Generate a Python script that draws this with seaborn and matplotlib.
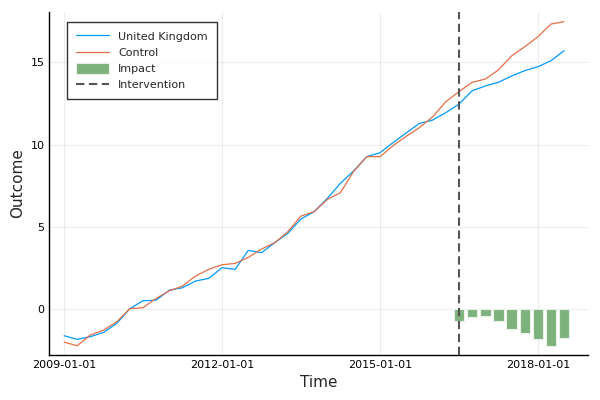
import pandas as pd
import numpy as np
import matplotlib
matplotlib.use("Agg")
import matplotlib.pyplot as plt
import matplotlib.dates as mdates
import seaborn as sns

# quarterly observations, 2009-01-01 .. 2018-07-01
start_date = "2009-01-01"
n_quarters = 39

uk = [-1.60, -1.82, -1.66, -1.40, -0.85, 0.04, 0.52, 0.56, 1.17, 1.31,
      1.72, 1.88, 2.53, 2.43, 3.58, 3.44, 4.05, 4.61, 5.48, 5.93,
      6.74, 7.65, 8.40, 9.27, 9.51, 10.12, 10.70, 11.29, 11.49, 11.94,
      12.45, 13.27, 13.56, 13.78, 14.16, 14.49, 14.73, 15.09, 15.70]

control = [-1.99, -2.21, -1.56, -1.26, -0.75, 0.04, 0.10, 0.67, 1.13, 1.41,
           2.02, 2.43, 2.71, 2.79, 3.15, 3.66, 4.05, 4.71, 5.66, 5.93,
           6.68, 7.08, 8.36, 9.27, 9.27, 9.93, 10.50, 11.03, 11.69, 12.60,
           13.21, 13.78, 13.98, 14.53, 15.38, 15.94, 16.55, 17.32, 17.46]

# impact bars after the intervention (2016-07-01 .. 2018-07-01)
impact = [-0.70, -0.49, -0.39, -0.73, -1.20, -1.44, -1.80, -2.20, -1.74]
intervention = "2016-07-01"

dates = pd.date_range(start_date, periods=n_quarters, freq="QS")
df = pd.DataFrame({"Time": dates, "United Kingdom": uk, "Control": control})
long = df.melt(id_vars="Time", var_name="series", value_name="Outcome")
impact_dates = dates[-len(impact):]

sns.set_style("white")
plt.rcParams["font.family"] = ["DejaVu Sans"]

fig = plt.figure(figsize=(6, 4), dpi=100)
ax = fig.add_axes([0.082, 0.1125, 0.898, 0.8575])

sns.lineplot(data=long, x="Time", y="Outcome", hue="series",
             palette={"United Kingdom": "#009AFA", "Control": "#E36F47"},
             linewidth=0.9, ax=ax)
ax.bar(impact_dates, impact, width=72, color="#7DB27D", edgecolor="#E8F2E8",
       linewidth=0.8, label="Impact", zorder=3)
ax.axvline(pd.Timestamp(intervention), color="#555555", linestyle=(0, (4, 2.2)),
           linewidth=1.5, label="Intervention", zorder=4)

ax.set_xlim(pd.Timestamp("2009-01-01") - pd.Timedelta(days=104),
            pd.Timestamp("2018-01-01") + pd.Timedelta(days=347))
ax.set_ylim(-2.77, 18.05)
ax.set_yticks([0, 5, 10, 15])
ax.set_xticks([pd.Timestamp(d) for d in ["2009-01-01", "2012-01-01", "2015-01-01", "2018-01-01"]])
ax.xaxis.set_major_formatter(mdates.DateFormatter("%Y-%m-%d"))

ax.grid(True, color="#000000", alpha=0.07, linewidth=0.8)
ax.set_axisbelow(True)
for s in ["top", "right"]:
    ax.spines[s].set_visible(False)
for s in ["left", "bottom"]:
    ax.spines[s].set_color("black")
    ax.spines[s].set_linewidth(1.0)
ax.tick_params(direction="in", length=4, width=0.8, labelsize=8, colors="black")
ax.set_xlabel("Time", fontsize=11)
ax.set_ylabel("Outcome", fontsize=11)

handles, labels = ax.get_legend_handles_labels()
order = ["United Kingdom", "Control", "Impact", "Intervention"]
hmap = dict(zip(labels, handles))
leg = ax.legend([hmap[k] for k in order], order,
                loc="upper left", bbox_to_anchor=(0.033, 0.971), borderaxespad=0,
                fontsize=8, frameon=True, fancybox=False, handlelength=3.0,
                handleheight=1.1, labelspacing=0.45, borderpad=0.8)
leg.get_frame().set_edgecolor("black")
leg.get_frame().set_linewidth(1.0)

fig.savefig("out.png", dpi=100)
